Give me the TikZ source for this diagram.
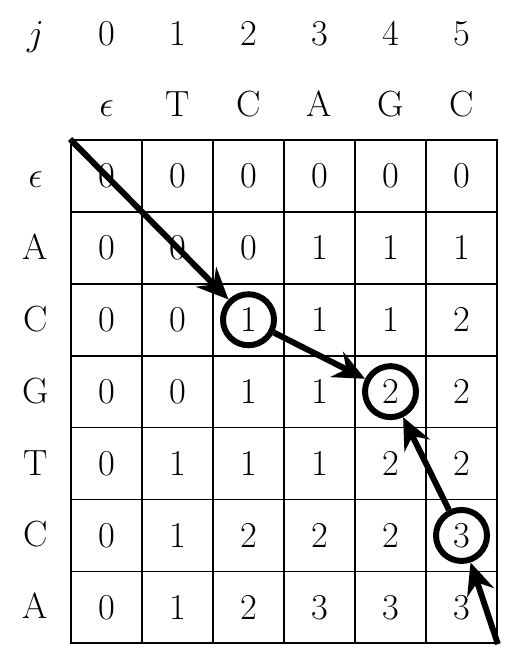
\documentclass[tikz,border=0pt]{standalone}
\usepackage{amssymb,amsmath}
\usepackage{tikz}
\usetikzlibrary{arrows.meta}

\begin{document}
\begin{tikzpicture}[
            x = 1.42cm, y = -1.438cm, % one cell
            > = {Stealth[length=18pt,width=16pt,inset=6pt]}, % arrow head style
            font = \huge,
            cell/.style = {draw=black, line width=1pt, minimum width=1.42cm, minimum height=1.438cm, inner sep=0pt},
            ring/.style = {shape=circle, draw=black, line width=3.4pt, minimum size=1.02cm, inner sep=0pt},
            trace/.style = {->, line width=3.4pt}
        ]
\useasboundingbox (-1,-1.947) rectangle (6.338,7.107);

% column indices and first sequence
\node[anchor=base] (j) at (-0.5,-1.31) {$j$};
\foreach \c in {0,...,5}
    \node[anchor=base] (n\c) at (\c+0.5,-1.31) {$\c$};
\foreach \c/\s in {0/$\epsilon$,1/T,2/C,3/A,4/G,5/C}
    \node[anchor=base] (s\c) at (\c+0.5,-0.32) {\s};

% score table
\foreach \r/\s/\vals in {0/$\epsilon$/{0,0,0,0,0,0},
                         1/A/{0,0,0,1,1,1},
                         2/C/{0,0,1,1,1,2},
                         3/G/{0,0,1,1,2,2},
                         4/T/{0,1,1,1,2,2},
                         5/C/{0,1,2,2,2,3},
                         6/A/{0,1,2,3,3,3}} {
    \node[anchor=base] (t\r) at (-0.5,\r+0.66) {\s};
    \foreach \v [count=\c from 0] in \vals
        \node[cell] (c\r\c) at (\c+0.5,\r+0.5) {$\v$};
}

% traceback
\node[ring] (r1) at (c22) {};
\node[ring] (r2) at (c34) {};
\node[ring] (r3) at (c55) {};

\draw[trace] (c00.north west) -- (r1);
\draw[trace] (r1) -- (r2);
\draw[trace] (r3) -- (r2);
\draw[trace] (c65.south east) -- (r3);
\end{tikzpicture}
\end{document}
